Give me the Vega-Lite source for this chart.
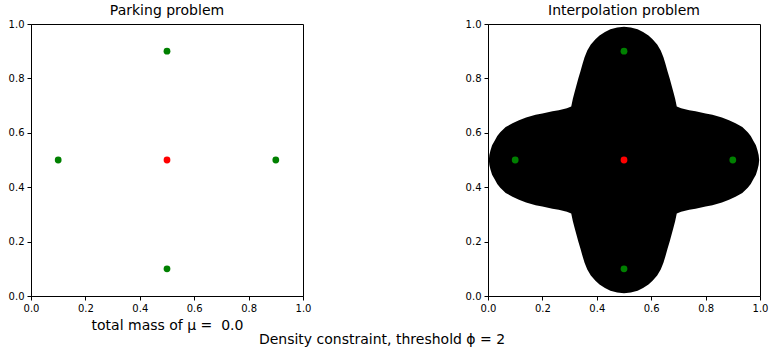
{
  "$schema": "https://vega.github.io/schema/vega-lite/v6.json",
  "background": "white",
  "padding": {"left": 7, "top": 3, "right": 0, "bottom": 0},
  "config": {
    "font": "DejaVu Sans",
    "view": {"stroke": "black", "strokeWidth": 1},
    "axis": {
      "grid": false,
      "domainColor": "black",
      "tickColor": "black",
      "labelColor": "black",
      "labelFontSize": 10,
      "labelFont": "DejaVu Sans",
      "tickSize": 4,
      "labelPadding": 3,
      "titleFontSize": 14,
      "titleFontWeight": "normal",
      "titleColor": "black",
      "titleFont": "DejaVu Sans",
      "labelFlush": false,
      "labelOverlap": false,
      "labelBound": false
    },
    "title": {"fontSize": 14, "fontWeight": "normal", "color": "black", "font": "DejaVu Sans", "offset": 1}
  },
  "title": {"text": "Density constraint, threshold ϕ = 2", "orient": "bottom", "anchor": "middle", "offset": 0, "dx": -6},
  "bounds": "flush",
  "spacing": 185,
  "datasets": {
    "pts": [
      {"x": 0.1, "y": 0.5, "kind": "target"},
      {"x": 0.9, "y": 0.5, "kind": "target"},
      {"x": 0.5, "y": 0.1, "kind": "target"},
      {"x": 0.5, "y": 0.9, "kind": "target"},
      {"x": 0.5, "y": 0.5, "kind": "center"}
    ],
    "shape": [
      {"x": 0.003, "lo": 0.5, "hi": 0.5},
      {"x": 0.005, "lo": 0.482, "hi": 0.518},
      {"x": 0.009, "lo": 0.465, "hi": 0.535},
      {"x": 0.015, "lo": 0.446, "hi": 0.554},
      {"x": 0.024, "lo": 0.43, "hi": 0.57},
      {"x": 0.034, "lo": 0.412, "hi": 0.588},
      {"x": 0.045, "lo": 0.398, "hi": 0.602},
      {"x": 0.065, "lo": 0.379, "hi": 0.621},
      {"x": 0.09, "lo": 0.365, "hi": 0.635},
      {"x": 0.114, "lo": 0.354, "hi": 0.646},
      {"x": 0.14, "lo": 0.344, "hi": 0.656},
      {"x": 0.175, "lo": 0.334, "hi": 0.666},
      {"x": 0.2, "lo": 0.329, "hi": 0.671},
      {"x": 0.237, "lo": 0.321, "hi": 0.679},
      {"x": 0.26, "lo": 0.317, "hi": 0.683},
      {"x": 0.29, "lo": 0.31, "hi": 0.69},
      {"x": 0.306, "lo": 0.303, "hi": 0.697},
      {"x": 0.312, "lo": 0.275, "hi": 0.725},
      {"x": 0.318, "lo": 0.252, "hi": 0.748},
      {"x": 0.324, "lo": 0.23, "hi": 0.77},
      {"x": 0.332, "lo": 0.2, "hi": 0.8},
      {"x": 0.34, "lo": 0.174, "hi": 0.826},
      {"x": 0.348, "lo": 0.145, "hi": 0.855},
      {"x": 0.355, "lo": 0.122, "hi": 0.878},
      {"x": 0.365, "lo": 0.097, "hi": 0.903},
      {"x": 0.378, "lo": 0.075, "hi": 0.925},
      {"x": 0.395, "lo": 0.056, "hi": 0.944},
      {"x": 0.41, "lo": 0.042, "hi": 0.958},
      {"x": 0.43, "lo": 0.029, "hi": 0.971},
      {"x": 0.45, "lo": 0.019, "hi": 0.981},
      {"x": 0.475, "lo": 0.013, "hi": 0.987},
      {"x": 0.5, "lo": 0.01, "hi": 0.99},
      {"x": 0.525, "lo": 0.013, "hi": 0.987},
      {"x": 0.55, "lo": 0.019, "hi": 0.981},
      {"x": 0.57, "lo": 0.029, "hi": 0.971},
      {"x": 0.59, "lo": 0.042, "hi": 0.958},
      {"x": 0.605, "lo": 0.056, "hi": 0.944},
      {"x": 0.622, "lo": 0.075, "hi": 0.925},
      {"x": 0.635, "lo": 0.097, "hi": 0.903},
      {"x": 0.645, "lo": 0.122, "hi": 0.878},
      {"x": 0.652, "lo": 0.145, "hi": 0.855},
      {"x": 0.66, "lo": 0.174, "hi": 0.826},
      {"x": 0.668, "lo": 0.2, "hi": 0.8},
      {"x": 0.676, "lo": 0.23, "hi": 0.77},
      {"x": 0.682, "lo": 0.252, "hi": 0.748},
      {"x": 0.688, "lo": 0.275, "hi": 0.725},
      {"x": 0.694, "lo": 0.303, "hi": 0.697},
      {"x": 0.71, "lo": 0.31, "hi": 0.69},
      {"x": 0.74, "lo": 0.317, "hi": 0.683},
      {"x": 0.763, "lo": 0.321, "hi": 0.679},
      {"x": 0.8, "lo": 0.329, "hi": 0.671},
      {"x": 0.825, "lo": 0.334, "hi": 0.666},
      {"x": 0.86, "lo": 0.344, "hi": 0.656},
      {"x": 0.886, "lo": 0.354, "hi": 0.646},
      {"x": 0.91, "lo": 0.365, "hi": 0.635},
      {"x": 0.935, "lo": 0.379, "hi": 0.621},
      {"x": 0.955, "lo": 0.398, "hi": 0.602},
      {"x": 0.966, "lo": 0.412, "hi": 0.588},
      {"x": 0.976, "lo": 0.43, "hi": 0.57},
      {"x": 0.985, "lo": 0.446, "hi": 0.554},
      {"x": 0.991, "lo": 0.465, "hi": 0.535},
      {"x": 0.995, "lo": 0.482, "hi": 0.518},
      {"x": 0.997, "lo": 0.5, "hi": 0.5}
    ]
  },
  "hconcat": [
    {
      "width": 272,
      "height": 272,
      "title": "Parking problem",
      "data": {"name": "pts"},
      "mark": {"type": "circle", "size": 46, "opacity": 1},
      "encoding": {
        "x": {"field": "x", "type": "quantitative", "scale": {"domain": [0, 1], "nice": false}, "axis": {"title": "total mass of μ = \u00a00.0", "values": [0, 0.2, 0.4, 0.6, 0.8, 1], "format": ".1f", "titlePadding": 5}},
        "y": {"field": "y", "type": "quantitative", "scale": {"domain": [0, 1], "nice": false}, "axis": {"title": null, "values": [0, 0.2, 0.4, 0.6, 0.8, 1], "format": ".1f"}},
        "color": {"field": "kind", "type": "nominal", "scale": {"domain": ["target", "center"], "range": ["#008000", "#ff0000"]}, "legend": null}
      }
    },
    {
      "width": 272,
      "height": 272,
      "title": "Interpolation problem",
      "layer": [
        {
          "data": {"name": "shape"},
          "mark": {"type": "area", "color": "black", "opacity": 1},
          "encoding": {
            "x": {"field": "x", "type": "quantitative", "scale": {"domain": [0, 1], "nice": false}, "axis": {"title": null, "values": [0, 0.2, 0.4, 0.6, 0.8, 1], "format": ".1f"}},
            "y": {"field": "lo", "type": "quantitative", "scale": {"domain": [0, 1], "nice": false}, "axis": {"title": null, "values": [0, 0.2, 0.4, 0.6, 0.8, 1], "format": ".1f"}},
            "y2": {"field": "hi"}
          }
        },
        {
          "data": {"name": "pts"},
          "mark": {"type": "circle", "size": 46, "opacity": 1},
          "encoding": {
            "x": {"field": "x", "type": "quantitative"},
            "y": {"field": "y", "type": "quantitative"},
            "color": {"field": "kind", "type": "nominal", "scale": {"domain": ["target", "center"], "range": ["#008000", "#ff0000"]}, "legend": null}
          }
        }
      ]
    }
  ]
}
